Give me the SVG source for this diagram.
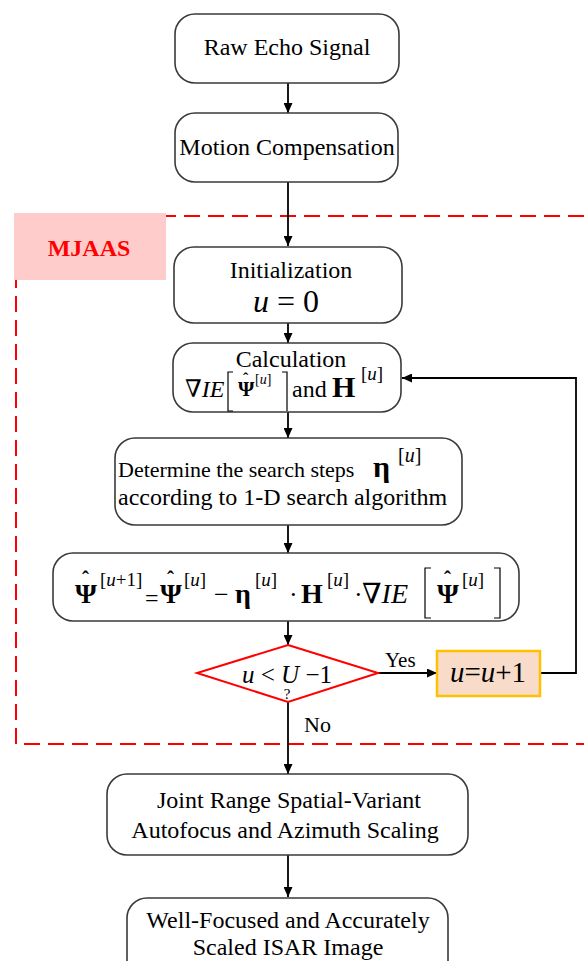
<svg xmlns="http://www.w3.org/2000/svg" width="584" height="961" viewBox="0 0 584 961">
<defs>
<style>
.t{font-family:"Liberation Serif","Times New Roman","DejaVu Serif",serif;fill:#000;}
.box{fill:#fff;stroke:#3a3a3a;stroke-width:1.6;}
.ln{fill:none;stroke:#000;stroke-width:1.8;}
.i{font-style:italic;}
.b{font-weight:bold;}
.n{font-weight:normal;}
.br{fill:none;stroke:#000;stroke-width:1.2;}
</style>
<marker id="ah" markerUnits="userSpaceOnUse" markerWidth="10" markerHeight="9" refX="10" refY="4.5" orient="auto">
<path d="M0,0 L10,4.5 L0,9 z" fill="#000"/>
</marker>
</defs>
<rect width="584" height="961" fill="#fff"/>

<g id="mjaas-region">
<path d="M584,216 H16 V744 H584" fill="none" stroke="#ff0000" stroke-width="2" stroke-dasharray="16,8"/>
<rect x="14" y="213" width="152" height="67" fill="#ffcccc"/>
<text class="t b" x="89" y="256" font-size="24" text-anchor="middle" style="fill:#ff0000">MJAAS</text>
</g>

<g id="connectors">
<line class="ln" x1="288" y1="83" x2="288" y2="113" marker-end="url(#ah)"/>
<line class="ln" x1="288" y1="182" x2="288" y2="246" marker-end="url(#ah)"/>
<line class="ln" x1="288" y1="323" x2="288" y2="343" marker-end="url(#ah)"/>
<line class="ln" x1="288" y1="412" x2="288" y2="438" marker-end="url(#ah)"/>
<line class="ln" x1="288" y1="525" x2="288" y2="553" marker-end="url(#ah)"/>
<line class="ln" x1="288" y1="621" x2="288" y2="645" marker-end="url(#ah)"/>
<line class="ln" x1="288" y1="702" x2="288" y2="774" marker-end="url(#ah)"/>
<line class="ln" x1="288" y1="855" x2="288" y2="897" marker-end="url(#ah)"/>
<line class="ln" x1="378" y1="673" x2="437" y2="673" marker-end="url(#ah)"/>
<polyline class="ln" points="540,673 576,673 576,378 402,378" marker-end="url(#ah)"/>
<text class="t" x="385" y="667" font-size="21">Yes</text>
<text class="t" x="304" y="732" font-size="22">No</text>
</g>

<g id="raw-echo">
<rect class="box" x="175" y="14" width="224" height="69" rx="20"/>
<text class="t" x="287" y="55" font-size="24" text-anchor="middle">Raw Echo Signal</text>
</g>

<g id="motion-comp">
<rect class="box" x="175" y="113" width="223" height="69" rx="20"/>
<text class="t" x="287" y="155" font-size="24" text-anchor="middle">Motion Compensation</text>
</g>

<g id="initialization">
<rect class="box" x="174" y="247" width="228" height="76" rx="20"/>
<text class="t" x="291" y="278" font-size="24" text-anchor="middle">Initialization</text>
<text class="t" x="286" y="312" font-size="32" text-anchor="middle"><tspan class="i">u</tspan> = 0</text>
</g>

<g id="calculation">
<rect class="box" x="173" y="343" width="228" height="69" rx="20"/>
<path class="br" d="M233,372 H228 V411 H233"/>
<path class="br" d="M282,372 H287 V411"/>
<text class="t" x="291" y="367" font-size="24" text-anchor="middle">Calculation</text>
<text class="t" x="185" y="397" font-size="24">∇<tspan class="i">IE</tspan><tspan class="b" x="238" y="396" font-size="21">Ψ</tspan><tspan class="b" x="243" y="384" font-size="16">ˆ</tspan><tspan x="255" y="384" font-size="14">[</tspan><tspan class="i" font-size="14">u</tspan><tspan font-size="14">]</tspan><tspan x="292" y="397">and</tspan><tspan class="b" x="332" y="397" font-size="30">H</tspan><tspan x="361" y="380" font-size="19">[</tspan><tspan class="i" font-size="19">u</tspan><tspan font-size="19">]</tspan></text>
</g>

<g id="determine">
<rect class="box" x="115" y="438" width="347" height="87" rx="20"/>
<text class="t" x="118" y="477" font-size="22">Determine the search steps<tspan class="b" x="373" y="477" font-size="30">η</tspan><tspan x="398" y="462" font-size="20">[</tspan><tspan class="i" font-size="20">u</tspan><tspan font-size="20">]</tspan></text>
<text class="t" x="118" y="505" font-size="24">according to 1-D search algorithm</text>
</g>

<g id="update-formula">
<rect class="box" x="53" y="553" width="466" height="68" rx="20"/>
<path class="br" d="M431,568 H425 V618 H431"/>
<path class="br" d="M494,568 H500 V618 H494"/>
<text class="t" x="75" y="603" font-size="28"><tspan class="b">Ψ</tspan><tspan class="b" x="82" y="586" font-size="21">ˆ</tspan><tspan x="100" y="586" font-size="19">[</tspan><tspan class="i" font-size="19">u</tspan><tspan font-size="19">+1]</tspan><tspan x="145" y="606" font-size="24">=</tspan><tspan class="b" x="160" y="603">Ψ</tspan><tspan class="b" x="167" y="586" font-size="21">ˆ</tspan><tspan x="184" y="586" font-size="19">[</tspan><tspan class="i" font-size="19">u</tspan><tspan font-size="19">]</tspan><tspan x="214" y="603" font-size="26">−</tspan><tspan class="b" x="235" y="603">η</tspan><tspan x="255" y="586" font-size="19">[</tspan><tspan class="i" font-size="19">u</tspan><tspan font-size="19">]</tspan><tspan x="289" y="603" font-size="26">·</tspan><tspan class="b" x="301" y="603">H</tspan><tspan x="327" y="586" font-size="19">[</tspan><tspan class="i" font-size="19">u</tspan><tspan font-size="19">]</tspan><tspan x="354" y="603" font-size="26">·</tspan><tspan x="362" y="603">∇</tspan><tspan class="i">IE</tspan><tspan class="b" x="437" y="603">Ψ</tspan><tspan class="b" x="444" y="586" font-size="21">ˆ</tspan><tspan x="462" y="586" font-size="19">[</tspan><tspan class="i" font-size="19">u</tspan><tspan font-size="19">]</tspan></text>
</g>

<g id="decision">
<polygon points="288,645 378,673 288,702 197,673" fill="#fff" stroke="#ff0000" stroke-width="2"/>
<text class="t" x="287" y="683" font-size="25" text-anchor="middle"><tspan class="i">u</tspan> &lt; <tspan class="i">U</tspan> −1<tspan x="287" y="699" font-size="15">?</tspan></text>
</g>

<g id="increment">
<rect x="437" y="651" width="103" height="45" fill="#f8dcc9" stroke="#ffc000" stroke-width="2.5"/>
<text class="t" x="488" y="682" font-size="29" text-anchor="middle"><tspan class="i">u</tspan>=<tspan class="i">u</tspan>+1</text>
</g>

<g id="joint-autofocus">
<rect class="box" x="107" y="774" width="361" height="81" rx="20"/>
<text class="t" x="289" y="808" font-size="24" text-anchor="middle">Joint Range Spatial-Variant</text>
<text class="t" x="285" y="838" font-size="24" text-anchor="middle">Autofocus and Azimuth Scaling</text>
</g>

<g id="isar-image">
<rect class="box" x="127" y="898" width="321" height="90" rx="20"/>
<text class="t" x="288" y="928" font-size="24" text-anchor="middle">Well-Focused and Accurately</text>
<text class="t" x="288" y="955" font-size="24" text-anchor="middle">Scaled ISAR Image</text>
</g>
</svg>
